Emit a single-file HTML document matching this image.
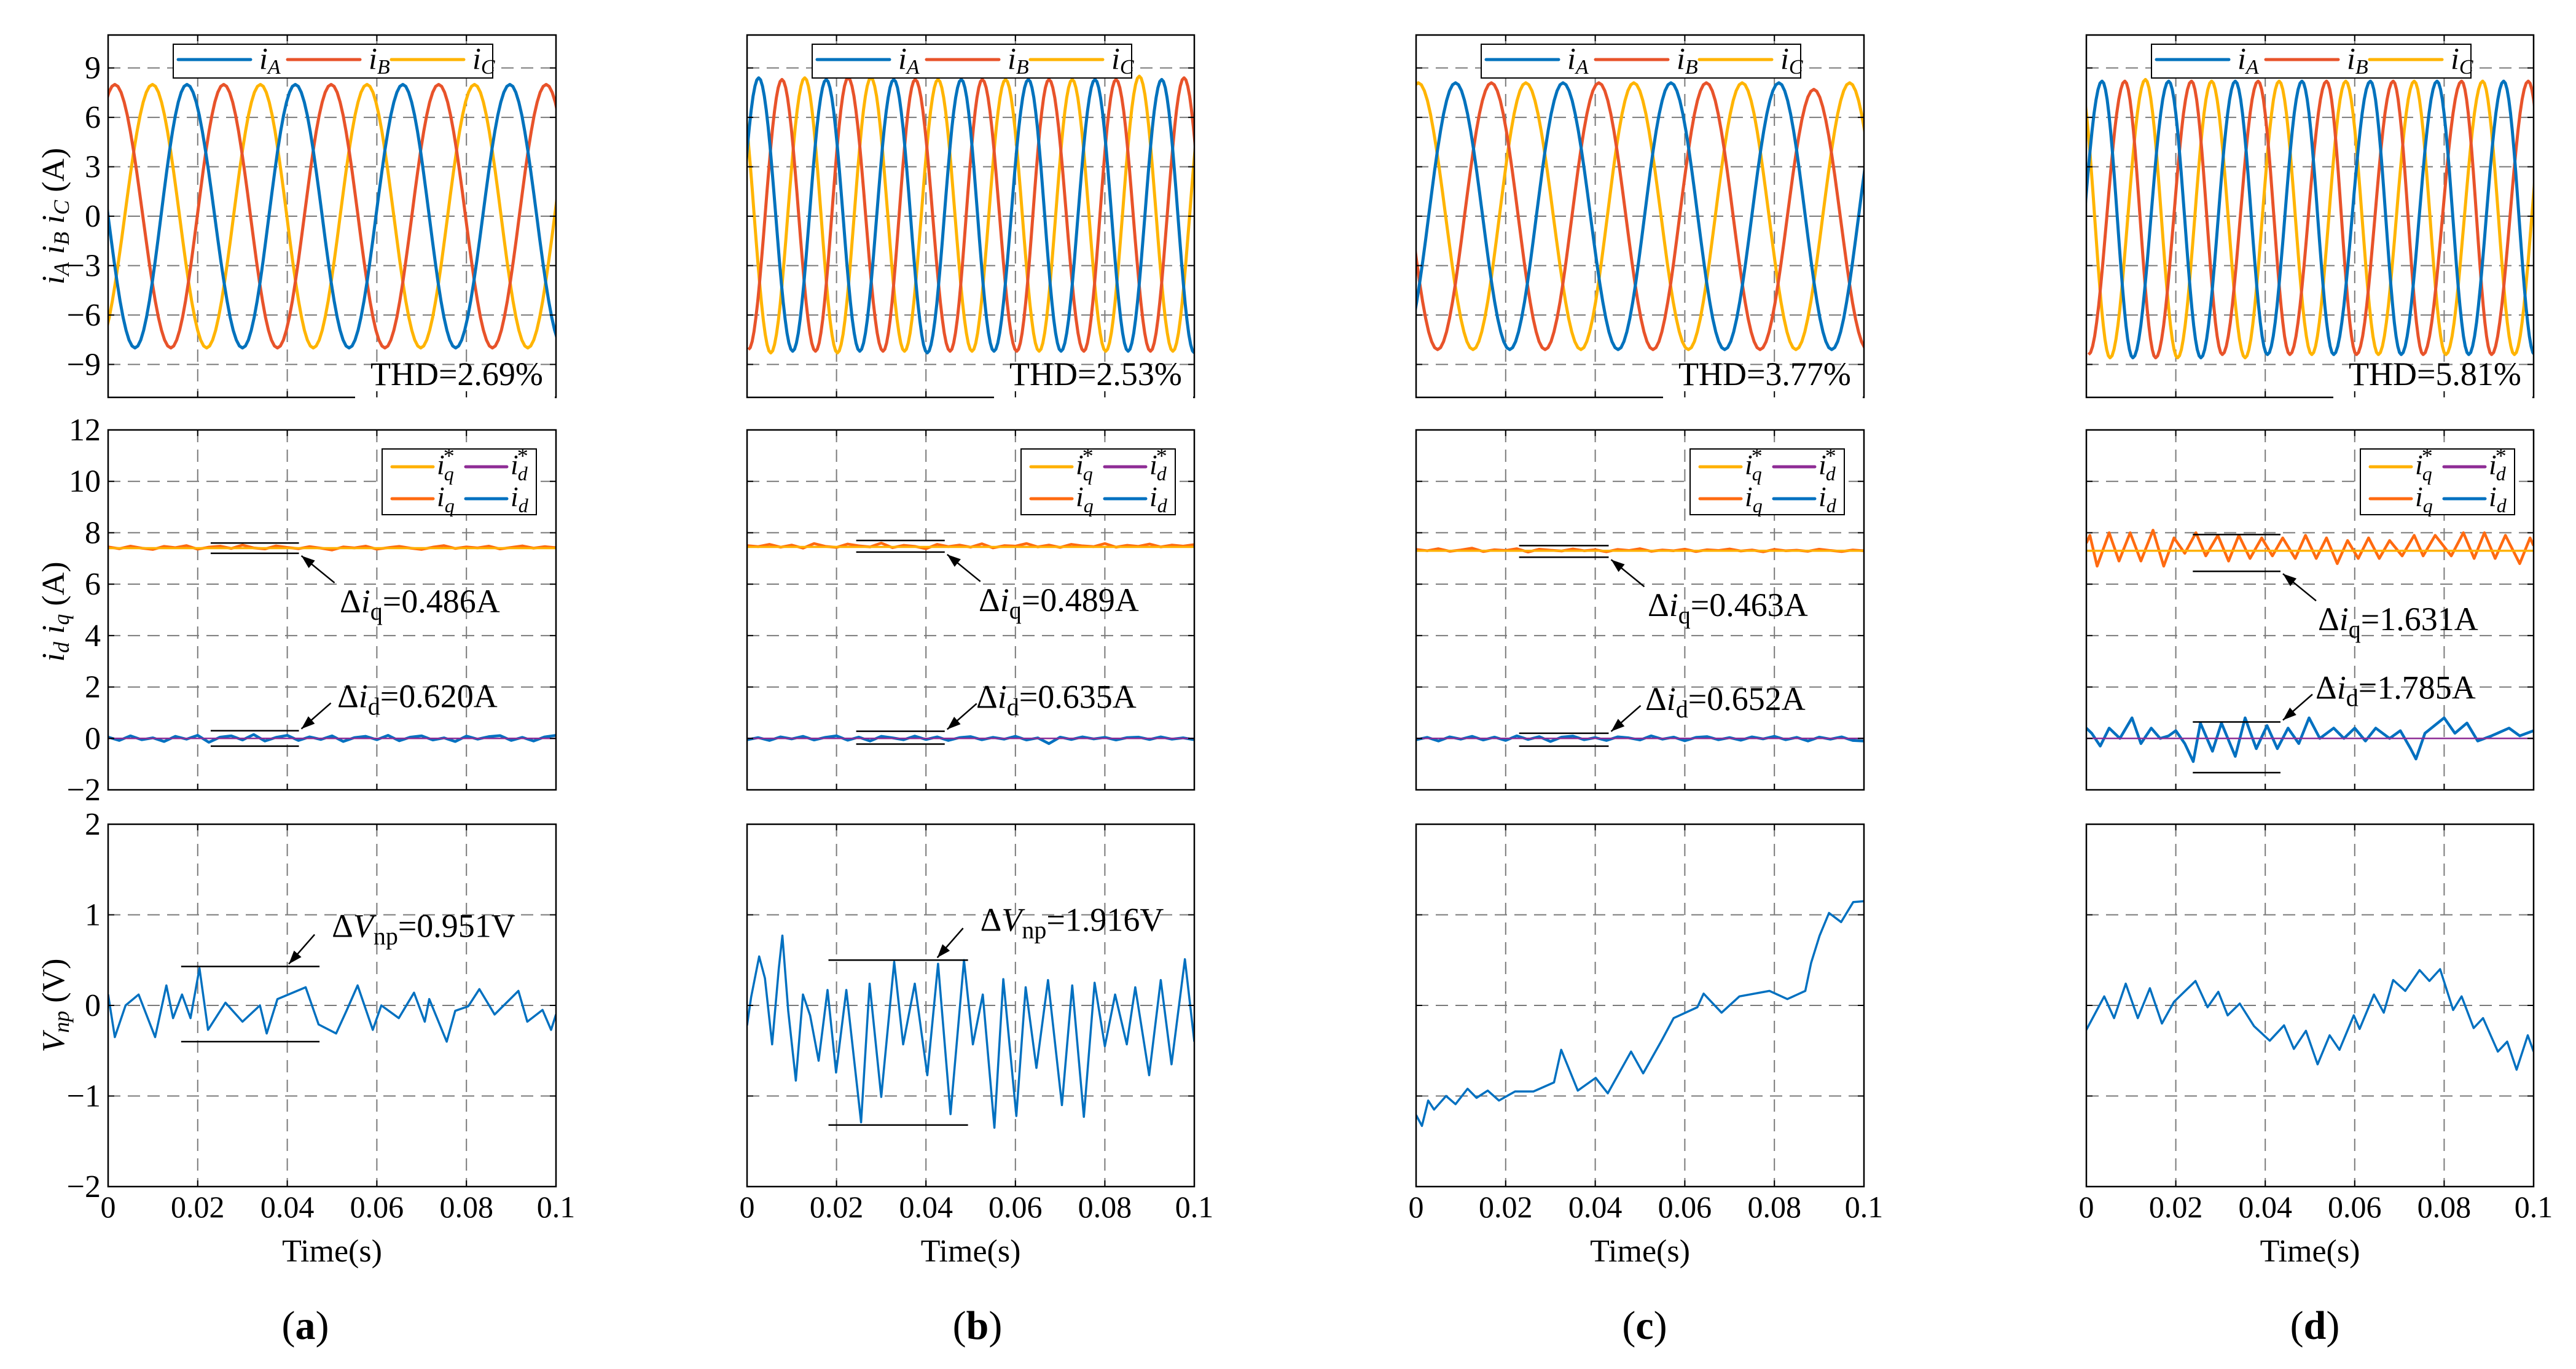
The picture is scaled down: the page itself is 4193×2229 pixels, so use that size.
<!DOCTYPE html>
<html><head><meta charset="utf-8"><title>Three-phase current and neutral-point voltage results</title>
<style>
html,body{margin:0;padding:0;background:#fff;}
svg{display:block;font-family:"Liberation Serif",serif;}
</style></head>
<body>
<svg id="fig" width="4193" height="2229" viewBox="0 0 4193 2229" xmlns="http://www.w3.org/2000/svg"></svg>
<script>
// ---------- data ----------
// x-axis
const xTicks = [0, 0.02, 0.04, 0.06, 0.08, 0.1];
const xTickLabels = ["0", "0.02", "0.04", "0.06", "0.08", "0.1"];
const topTicks = [-9, -6, -3, 0, 3, 6, 9];
const midTicks = [-2, 0, 2, 4, 6, 8, 10, 12];
const botTicks = [-2, -1, 0, 1, 2];
const panelLetters = ["a", "b", "c", "d"];
const thdLabels = ["THD=2.69%", "THD=2.53%", "THD=3.77%", "THD=5.81%"];
const diqLabels = ["0.486A", "0.489A", "0.463A", "1.631A"];
const didLabels = ["0.620A", "0.635A", "0.652A", "1.785A"];
const dvLabels = ["0.951V", "1.916V", null, null];

// three-phase current extrema [time, value]
const a_iA = [[-0.006,8],[0.006,-8],[0.0176,8],[0.030,-8],[0.0418,8],[0.0538,-8],[0.0658,8],[0.0776,-8],[0.0897,8],[0.1017,-8]];
const a_iB = [[-0.0105,-8],[0.0015,8],[0.014,-8],[0.0258,8],[0.0378,-8],[0.0498,8],[0.0618,-8],[0.0738,8],[0.0858,-8],[0.0978,8],[0.110,-8]];
const a_iC = [[-0.0025,-8],[0.0099,8],[0.022,-8],[0.034,8],[0.0458,-8],[0.0578,8],[0.0698,-8],[0.0818,8],[0.0937,-8],[0.1057,8]];

const b_iA = [[-0.0049,-8.2],[0.0026,8.4],[0.0102,-8.2],[0.0177,8.3],[0.0252,-8.2],[0.0328,8.3],[0.0403,-8.3],[0.0479,8.3],[0.0552,-8.2],[0.0629,8.3],[0.0702,-8.2],[0.0778,8.3],[0.0852,-8.2],[0.0927,8.3],[0.1000,-8.3]];
const b_iB = [[0.0003,-8.1],[0.0078,8.3],[0.0153,-8.2],[0.0226,8.4],[0.0304,-8.2],[0.0376,8.3],[0.0454,-8.2],[0.0526,8.3],[0.0603,-8.2],[0.0675,8.3],[0.0753,-8.2],[0.0825,8.3],[0.0902,-8.2],[0.0977,8.4],[0.1052,-8.2]];
const b_iC = [[-0.0021,8.4],[0.0053,-8.3],[0.0129,8.4],[0.0202,-8.3],[0.0277,8.4],[0.0352,-8.2],[0.0427,8.3],[0.0503,-8.2],[0.0578,8.3],[0.0653,-8.2],[0.0727,8.3],[0.0802,-8.2],[0.0877,8.5],[0.0952,-8.2],[0.1027,8.3]];

const c_iA = [[-0.0032,-8.1],[0.0088,8.1],[0.0209,-8.1],[0.0328,8.1],[0.0451,-8.1],[0.0569,8.1],[0.0689,-8.1],[0.0810,8.1],[0.0928,-8.1],[0.1048,8.1]];
const c_iB = [[-0.0072,8.1],[0.0048,-8.1],[0.0168,8.1],[0.0288,-8.1],[0.0408,8.1],[0.0529,-8.1],[0.0648,8.1],[0.0768,-8.1],[0.0888,7.7],[0.1008,-8.1]];
const c_iC = [[-0.0115,-8.1],[0.0005,8.1],[0.0127,-8.1],[0.0245,8.1],[0.0368,-8.1],[0.0486,8.1],[0.0608,-8.1],[0.0728,8.1],[0.0848,-8.1],[0.0968,8.1],[0.1088,-8.1]];

const d_iA = [[-0.0045,-8.6],[0.0035,8.2],[0.0104,-8.6],[0.0184,8.2],[0.0256,-8.6],[0.0333,8.2],[0.0405,-8.4],[0.0482,8.2],[0.0553,-8.4],[0.0635,8.2],[0.0704,-8.4],[0.0784,8.2],[0.0855,-8.4],[0.0933,8.2],[0.1002,-8.4]];
const d_iB = [[0.0005,-8.4],[0.0086,8.2],[0.0155,-8.6],[0.0235,8.2],[0.0304,-8.4],[0.0384,8.2],[0.0455,-8.4],[0.0537,8.2],[0.0604,-8.4],[0.0686,8.2],[0.0753,-8.4],[0.0839,8.2],[0.0906,-8.4],[0.0988,8.2],[0.106,-8.4]];
const d_iC = [[-0.0015,8.2],[0.0053,-8.6],[0.0132,8.3],[0.0204,-8.6],[0.0280,8.2],[0.0355,-8.6],[0.0431,8.2],[0.0504,-8.4],[0.0580,8.2],[0.0653,-8.4],[0.0733,8.2],[0.0804,-8.4],[0.0886,8.2],[0.0957,-8.4],[0.1035,8.4]];

// dq currents (cols a-c sampled every 0.0025 s)
const a_iq = [7.45,7.38,7.48,7.40,7.35,7.47,7.42,7.50,7.36,7.44,7.48,7.39,7.52,7.41,7.37,7.49,7.43,7.38,7.46,7.40,7.33,7.45,7.41,7.48,7.36,7.42,7.47,7.40,7.35,7.44,7.50,7.39,7.45,7.41,7.48,7.37,7.43,7.49,7.40,7.46,7.42];
const a_id = [0.05,-0.08,0.10,-0.05,0.02,-0.12,0.08,-0.03,0.12,-0.15,0.05,0.10,-0.06,0.15,-0.10,0.04,0.12,-0.08,0.06,-0.04,0.10,-0.12,0.03,0.08,-0.05,0.12,-0.09,0.05,0.10,-0.06,0.02,-0.12,0.09,-0.03,0.07,0.11,-0.08,0.04,-0.10,0.06,0.12];
const b_iq = [7.50,7.46,7.55,7.44,7.52,7.40,7.58,7.47,7.43,7.56,7.49,7.45,7.60,7.42,7.51,7.47,7.38,7.55,7.46,7.52,7.44,7.57,7.41,7.50,7.48,7.58,7.45,7.52,7.43,7.55,7.49,7.46,7.58,7.44,7.51,7.47,7.56,7.45,7.52,7.48,7.54];
const b_id = [-0.05,0.03,-0.08,0.06,-0.02,0.08,-0.06,0.04,0.10,-0.07,0.05,-0.10,0.08,0.02,-0.05,0.09,-0.04,0.06,-0.08,0.03,0.07,-0.05,0.04,-0.03,0.08,-0.06,0.02,-0.20,0.05,-0.04,0.06,-0.02,0.04,-0.06,0.03,0.05,-0.04,0.06,-0.03,0.02,-0.05];
const c_iq = [7.35,7.30,7.38,7.28,7.33,7.40,7.27,7.34,7.31,7.38,7.25,7.36,7.32,7.29,7.37,7.30,7.34,7.26,7.35,7.31,7.38,7.28,7.33,7.30,7.36,7.27,7.34,7.31,7.37,7.29,7.33,7.26,7.35,7.30,7.32,7.28,7.36,7.31,7.27,7.33,7.30];
const c_id = [-0.05,0.04,-0.10,0.06,-0.03,0.08,-0.06,0.05,-0.08,0.10,-0.04,0.07,-0.12,0.05,0.09,-0.05,0.03,-0.08,0.06,0.02,-0.06,0.10,-0.03,0.05,-0.09,0.04,0.07,-0.05,0.03,-0.07,0.06,-0.02,0.08,-0.05,0.04,-0.10,0.05,-0.03,0.06,-0.08,-0.10];
// col d dq currents as key points [time, value]
const d_iq = [[0,7.6],[0.0008,7.9],[0.0024,6.7],[0.0051,8.0],[0.0073,6.9],[0.0098,8.0],[0.0122,6.9],[0.0149,8.1],[0.0173,6.7],[0.0196,7.8],[0.022,7.2],[0.0245,8.0],[0.0267,7.1],[0.0294,7.9],[0.0318,6.9],[0.0341,7.9],[0.0366,7.0],[0.0392,7.8],[0.0416,7.1],[0.0439,7.8],[0.0467,7.0],[0.049,7.9],[0.0514,7.0],[0.0537,7.8],[0.0561,6.8],[0.0584,7.7],[0.0608,7.0],[0.0631,7.8],[0.0655,7.0],[0.0678,7.7],[0.0706,7.1],[0.0733,7.9],[0.0753,7.1],[0.078,7.9],[0.0816,7.1],[0.0843,8.0],[0.0867,7.0],[0.089,8.0],[0.0914,7.0],[0.0937,7.9],[0.0969,6.8],[0.0992,7.8],[0.1,7.5]];
const d_id = [[0,0.4],[0.0012,0.2],[0.0031,-0.3],[0.0051,0.4],[0.0075,0],[0.0102,0.8],[0.0122,-0.2],[0.0145,0.4],[0.0165,0],[0.0184,0.1],[0.02,0.3],[0.022,-0.2],[0.0239,-0.9],[0.0255,0.6],[0.0282,-0.5],[0.0302,0.6],[0.0333,-0.7],[0.0355,0.8],[0.038,-0.4],[0.0404,0.5],[0.0427,-0.4],[0.0451,0.4],[0.0475,-0.2],[0.0498,0.8],[0.0522,0],[0.0553,0.4],[0.0576,0],[0.06,0.4],[0.0624,-0.1],[0.0647,0.4],[0.0678,0],[0.0702,0.3],[0.0725,-0.4],[0.0737,-0.8],[0.0757,0.2],[0.08,0.8],[0.0824,0.2],[0.0851,0.6],[0.0875,-0.1],[0.0906,0.1],[0.0945,0.4],[0.0969,0.1],[0.1,0.3]];
const iqRef = [7.4, 7.45, 7.3, 7.3];
const idRef = [0, 0, 0, 0];

// neutral-point voltage key points [time, value]
const a_vnp = [[0,0.12],[0.0015,-0.35],[0.0039,0],[0.0068,0.12],[0.0105,-0.35],[0.013,0.22],[0.0145,-0.14],[0.0165,0.12],[0.0184,-0.14],[0.0204,0.41],[0.0223,-0.27],[0.0262,0.03],[0.0300,-0.18],[0.0339,0],[0.0354,-0.31],[0.0378,0.07],[0.0441,0.20],[0.047,-0.21],[0.0509,-0.31],[0.0533,-0.05],[0.0557,0.22],[0.0591,-0.27],[0.0610,0],[0.0649,-0.14],[0.0683,0.14],[0.0707,-0.18],[0.0717,0.07],[0.0756,-0.40],[0.0775,-0.06],[0.0804,-0.01],[0.0829,0.18],[0.0863,-0.10],[0.0916,0.16],[0.0936,-0.18],[0.097,-0.05],[0.0989,-0.27],[0.1,-0.10]];
const b_vnp = [[0,-0.22],[0.0009,0.09],[0.0027,0.54],[0.004,0.30],[0.0056,-0.43],[0.0071,0.41],[0.0079,0.77],[0.0092,-0.06],[0.0109,-0.83],[0.0125,0.12],[0.0141,-0.11],[0.016,-0.61],[0.018,0.17],[0.0199,-0.74],[0.0222,0.17],[0.0255,-1.29],[0.0274,0.24],[0.03,-1.01],[0.0329,0.48],[0.0349,-0.43],[0.0375,0.24],[0.0403,-0.77],[0.0427,0.46],[0.0455,-1.20],[0.0485,0.50],[0.0505,-0.43],[0.0527,0.12],[0.0553,-1.35],[0.0573,0.29],[0.0602,-1.22],[0.0623,0.20],[0.0647,-0.69],[0.0673,0.28],[0.0704,-1.10],[0.0727,0.22],[0.0753,-1.23],[0.0777,0.25],[0.08,-0.45],[0.0823,0.12],[0.0849,-0.43],[0.0868,0.20],[0.0899,-0.77],[0.0925,0.28],[0.0949,-0.65],[0.0979,0.51],[0.1,-0.40]];
const c_vnp = [[0,-1.21],[0.0013,-1.33],[0.0027,-1.05],[0.004,-1.15],[0.0067,-1.0],[0.0088,-1.09],[0.0115,-0.92],[0.0135,-1.02],[0.0160,-0.94],[0.0185,-1.05],[0.0221,-0.95],[0.0262,-0.95],[0.0308,-0.85],[0.0324,-0.49],[0.0361,-0.94],[0.0401,-0.8],[0.0428,-0.97],[0.048,-0.51],[0.0507,-0.75],[0.0548,-0.39],[0.0575,-0.14],[0.0628,-0.02],[0.0642,0.13],[0.0682,-0.08],[0.0722,0.10],[0.0789,0.16],[0.0829,0.07],[0.0869,0.16],[0.0882,0.47],[0.0901,0.77],[0.0922,1.02],[0.0949,0.92],[0.0976,1.14],[0.1,1.15]];
const d_vnp = [[0,-0.27],[0.004,0.10],[0.0062,-0.14],[0.0088,0.24],[0.0115,-0.14],[0.0142,0.19],[0.0169,-0.2],[0.0196,0.04],[0.0244,0.27],[0.0271,-0.02],[0.0295,0.15],[0.0316,-0.11],[0.0343,0.02],[0.0375,-0.23],[0.041,-0.39],[0.0442,-0.22],[0.0464,-0.48],[0.0491,-0.28],[0.0517,-0.65],[0.0544,-0.33],[0.0566,-0.49],[0.0598,-0.11],[0.0611,-0.26],[0.0643,0.12],[0.0665,-0.08],[0.0686,0.28],[0.0713,0.16],[0.0745,0.39],[0.0767,0.27],[0.0791,0.40],[0.0820,-0.05],[0.0839,0.10],[0.0866,-0.25],[0.0887,-0.14],[0.0920,-0.51],[0.0941,-0.40],[0.0962,-0.71],[0.0987,-0.33],[0.1,-0.51]];

// annotation brackets: [tStart, tEnd, vUpper, vLower]
const iqBracket = [[0.0229,0.0426,7.6,7.2],[0.0244,0.0442,7.7,7.25],[0.023,0.043,7.5,7.05],[0.0238,0.0434,7.93,6.5]];
const idBracket = [[0.0229,0.0426,0.3,-0.3],[0.0244,0.0442,0.28,-0.22],[0.023,0.043,0.2,-0.3],[0.0238,0.0434,0.64,-1.33]];
const vBracket = [[0.0163,0.0472,0.43,-0.40],[0.0182,0.0494,0.5,-1.32],null,null];

// ---------- layout ----------
const cols = [{x0:176,x1:905},{x0:1216,x1:1944},{x0:2305,x1:3034},{x0:3396,x1:4124}];
const rows = [{y0:57,y1:647,vmin:-11,vmax:11},{y0:700,y1:1286,vmin:-2,vmax:12},{y0:1342,y1:1932,vmin:-2,vmax:2}];
const letterX = [497,1591,2677,3768];
const C_A="#0072BD", C_B="#E8532A", C_C="#FFB400", C_IQ="#FF6A10", C_IQR="#FFB000", C_IDR="#8E2C95", C_ID="#0070C0";
const svg = document.getElementById('fig');
const NS = "http://www.w3.org/2000/svg";
function mk(tag, attrs, parent){const e=document.createElementNS(NS,tag);for(const k in attrs)e.setAttribute(k,attrs[k]);(parent||svg).appendChild(e);return e;}
function sx(c,t){const C=cols[c];return C.x0+(t-0.0)/0.1*(C.x1-C.x0);}
function sy(r,v){const R=rows[r];return R.y1-(v-R.vmin)/(R.vmax-R.vmin)*(R.y1-R.y0);}
function cosPath(c,r,pts){let d="";for(let i=0;i<pts.length-1;i++){const [t0,v0]=pts[i],[t1,v1]=pts[i+1];const n=18;for(let k=(i?1:0);k<=n;k++){const f=k/n;const t=t0+(t1-t0)*f;const v=v0+(v1-v0)*(1-Math.cos(Math.PI*f))/2;d+=(d?"L":"M")+sx(c,t).toFixed(1)+","+sy(r,v).toFixed(1);}}return d;}
function linePath(c,r,pts){return pts.map((p,i)=>(i?"L":"M")+sx(c,p[0]).toFixed(1)+","+sy(r,p[1]).toFixed(1)).join("");}
function sampPath(c,r,vals){const dt=0.1/(vals.length-1);return vals.map((v,i)=>(i?"L":"M")+sx(c,i*dt).toFixed(1)+","+sy(r,v).toFixed(1)).join("");}

const defs = mk('defs',{});
const phaseData = [[a_iA,a_iB,a_iC],[b_iA,b_iB,b_iC],[c_iA,c_iB,c_iC],[d_iA,d_iB,d_iC]];
const iqData=[a_iq,b_iq,c_iq,d_iq], idData=[a_id,b_id,c_id,d_id], vData=[a_vnp,b_vnp,c_vnp,d_vnp];
const tickSets=[topTicks,midTicks,botTicks];

for(let c=0;c<4;c++){
  const C=cols[c];
  for(let r=0;r<3;r++){
    const R=rows[r];
    const g=mk('g',{});
    
    
    const cp=mk('clipPath',{id:'cp'+c+r},defs);
    mk('rect',{x:C.x0,y:R.y0,width:C.x1-C.x0,height:R.y1-R.y0},cp);
    // grid
    const grid=mk('g',{stroke:"#7a7a7a","stroke-width":2,"stroke-dasharray":"20 12",fill:"none"},g);
    
    
    for(let i=1;i<xTicks.length-1;i++){const x=sx(c,xTicks[i]);mk('line',{x1:x,x2:x,y1:R.y0,y2:R.y1},grid);}
    tickSets[r].forEach(v=>{if(v<=R.vmin||v>=R.vmax)return;const y=sy(r,v);mk('line',{x1:C.x0,x2:C.x1,y1:y,y2:y},grid);});
    // series
    const sg=mk('g',{"clip-path":"url(#cp"+c+r+")",fill:"none","stroke-linejoin":"round"},g);
    if(r===0){
      const cl=[C_A,C_B,C_C];
      const nm=['series-ia','series-ib','series-ic'];
      [2,1,0].forEach(k=>{const p=mk('path',{d:cosPath(c,0,phaseData[c][k]),stroke:cl[k],"stroke-width":5},sg);
        
        });
    } else if(r===1){
      const iqD=iqData[c], idD=idData[c];
      const pq=mk('path',{d:Array.isArray(iqD[0])?linePath(c,1,iqD):sampPath(c,1,iqD),stroke:C_IQ,"stroke-width":4.5},sg);
      
      
      const pqr=mk('path',{d:linePath(c,1,[[0,iqRef[c]],[0.1,iqRef[c]]]),stroke:C_IQR,"stroke-width":3.5},sg);
      
      
      const pd=mk('path',{d:Array.isArray(idD[0])?linePath(c,1,idD):sampPath(c,1,idD),stroke:C_ID,"stroke-width":4.5},sg);
      
      
      const pdr=mk('path',{d:linePath(c,1,[[0,idRef[c]],[0.1,idRef[c]]]),stroke:C_IDR,"stroke-width":2.5},sg);
      
      
    } else {
      const pv=mk('path',{d:linePath(c,2,vData[c]),stroke:C_ID,"stroke-width":3.5},sg);
      
      
    }
    // white THD box in top plots
    if(r===0){
      const wb=mk('rect',{x:C.x0+400,y:598,width:C.x1-C.x0-401,height:R.y1-598+3,fill:"#fff"},g);
      
      
      const th=mk('text',{x:C.x0+427,y:627,"font-size":54},g);
      th.textContent=thdLabels[c];
      
      
    }
    // frame
    const fr=mk('rect',{x:C.x0,y:R.y0,width:C.x1-C.x0,height:R.y1-R.y0,fill:"none",stroke:"#000","stroke-width":2.5},g);
    
    
    if(r===0){mk('rect',{x:C.x0+402,y:R.y1-2,width:C.x1-C.x0-404,height:5,fill:"#fff"},g);}
    // tick marks
    const tk=mk('g',{stroke:"#000","stroke-width":2},g);
    xTicks.forEach(t=>{const x=sx(c,t);mk('line',{x1:x,x2:x,y1:R.y1,y2:R.y1-10},tk);mk('line',{x1:x,x2:x,y1:R.y0,y2:R.y0+10},tk);});
    tickSets[r].forEach(v=>{const y=sy(r,v);mk('line',{x1:C.x0,x2:C.x0+10,y1:y,y2:y},tk);mk('line',{x1:C.x1,x2:C.x1-10,y1:y,y2:y},tk);});
    // y tick labels only column a
    if(c===0){
      tickSets[r].forEach(v=>{const t=mk('text',{x:C.x0-12,y:sy(r,v)+17,"font-size":52,"text-anchor":"end"},g);
        t.textContent=(v<0?"\u2212"+Math.abs(v):String(v));
        
        });
    }
    // x tick labels for bottom row
    if(r===2){
      xTicks.forEach((t,i)=>{const tx=mk('text',{x:sx(c,t),y:1982,"font-size":50,"text-anchor":"middle"},g);
        tx.textContent=xTickLabels[i];
        
        });
      const xt=mk('text',{x:(C.x0+C.x1)/2,y:2054,"font-size":52,"text-anchor":"middle"},g);
      xt.textContent="Time(s)";
      
      
    }
  }
  // legends
  const lg=mk('g',{},svg);
  
  
  mk('rect',{x:C.x0+106,y:72,width:520,height:55,fill:"#fff",stroke:"#000","stroke-width":2},lg);
  [[C_A,"A",114],[C_B,"B",292],[C_C,"C",461]].forEach(([col,s,off])=>{
    const le=mk('line',{x1:C.x0+off,x2:C.x0+off+118,y1:97,y2:97,stroke:col,"stroke-width":5,"stroke-linecap":"round"},lg);
    
    
    const lt=mk('text',{x:C.x0+off+132,y:112,"font-size":50,"font-style":"italic"},lg);
    lt.innerHTML='i<tspan font-size="34" dy="8">'+s+'</tspan>';
    
    
  });
  const lg2=mk('g',{},svg);
  
  
  mk('rect',{x:C.x0+446,y:731,width:251,height:107,fill:"#fff",stroke:"#000","stroke-width":2},lg2);
  [[C_IQR,"q",true,462,760],[C_IDR,"d",true,582,760],[C_IQ,"q",false,462,812],[C_ID,"d",false,582,812]].forEach(([col,s,star,off,y])=>{
    const le=mk('line',{x1:C.x0+off,x2:C.x0+off+67,y1:y,y2:y,stroke:col,"stroke-width":5,"stroke-linecap":"round"},lg2);
    
    
    const lt=mk('text',{x:C.x0+off+73,y:y+12,"font-size":46,"font-style":"italic"},lg2);
    lt.innerHTML='i'+(star?'<tspan font-style="normal" font-size="36" dy="-18" dx="-2">*</tspan><tspan font-size="32" dx="-17" dy="28">'+s+'</tspan>':'<tspan font-size="32" dy="10">'+s+'</tspan>');
    
    
  });
  // dq annotations
  const an=mk('g',{stroke:"#000","stroke-width":2.5,fill:"none"},svg);
  
  
  function bracket(r,b){mk('line',{x1:sx(c,b[0]),x2:sx(c,b[1]),y1:sy(r,b[2]),y2:sy(r,b[2])},an);mk('line',{x1:sx(c,b[0]),x2:sx(c,b[1]),y1:sy(r,b[3]),y2:sy(r,b[3])},an);}
  function arrow(x1,y1,x2,y2){mk('line',{x1:x1,y1:y1,x2:x2,y2:y2},an);const a=Math.atan2(y2-y1,x2-x1),L=22,W=8;
    const p=[[x2,y2],[x2-L*Math.cos(a)+W*Math.sin(a),y2-L*Math.sin(a)-W*Math.cos(a)],[x2-L*Math.cos(a)-W*Math.sin(a),y2-L*Math.sin(a)+W*Math.cos(a)]];
    mk('polygon',{points:p.map(q=>q.join(",")).join(" "),fill:"#000",stroke:"none"},an);}
  const bq=iqBracket[c], bd=idBracket[c];
  bracket(1,bq); bracket(1,bd);
  const ex=sx(c,bq[1]);
  arrow(ex+58,sy(1,bq[3])+48,ex+4,sy(1,bq[3])+4);
  arrow(ex+52,sy(1,bd[2])-45,ex+4,sy(1,bd[2])-3);
  const tq=mk('text',{x:C.x0+377,y:sy(1,bq[3])+96,"font-size":54},svg);
  tq.innerHTML='\u0394<tspan font-style="italic">i</tspan><tspan font-size="40" dy="12">q</tspan><tspan dy="-12">='+diqLabels[c]+'</tspan>';
  
  
  const td=mk('text',{x:C.x0+373,y:sy(1,bd[2])-38,"font-size":54},svg);
  td.innerHTML='\u0394<tspan font-style="italic">i</tspan><tspan font-size="40" dy="12">d</tspan><tspan dy="-12">='+didLabels[c]+'</tspan>';
  
  
  if(vBracket[c]){
    const bv=vBracket[c];
    bracket(2,bv);
    const vx=sx(c,bv[1]);
    arrow(vx-8,sy(2,bv[2])-52,vx-50,sy(2,bv[2])-4);
    const tv=mk('text',{x:vx+20,y:sy(2,bv[2])-48,"font-size":54},svg);
    tv.innerHTML='\u0394<tspan font-style="italic">V</tspan><tspan font-size="40" dy="12">np</tspan><tspan dy="-12">='+dvLabels[c]+'</tspan>';
    
    
  }
  const pl=mk('text',{x:letterX[c],y:2180,"font-size":66,"text-anchor":"middle"},svg);
  pl.innerHTML='(<tspan font-weight="bold">'+panelLetters[c]+'</tspan>)';
  
  
}
// y-axis titles
const yt1=mk('text',{x:0,y:0,"font-size":52,"text-anchor":"middle",transform:"translate(104,352) rotate(-90)"});
yt1.innerHTML='<tspan font-style="italic">i</tspan><tspan font-style="italic" font-size="36" dy="8">A</tspan><tspan font-style="italic" dy="-8"> i</tspan><tspan font-style="italic" font-size="36" dy="8">B</tspan><tspan font-style="italic" dy="-8"> i</tspan><tspan font-style="italic" font-size="36" dy="8">C</tspan><tspan dy="-8"> (A)</tspan>';


const yt2=mk('text',{x:0,y:0,"font-size":52,"text-anchor":"middle",transform:"translate(104,996) rotate(-90)"});
yt2.innerHTML='<tspan font-style="italic">i</tspan><tspan font-style="italic" font-size="36" dy="8">d</tspan><tspan font-style="italic" dy="-8"> i</tspan><tspan font-style="italic" font-size="36" dy="8">q</tspan><tspan dy="-8"> (A)</tspan>';


const yt3=mk('text',{x:0,y:0,"font-size":52,"text-anchor":"middle",transform:"translate(104,1637) rotate(-90)"});
yt3.innerHTML='<tspan font-style="italic">V</tspan><tspan font-style="italic" font-size="36" dy="8">np</tspan><tspan dy="-8"> (V)</tspan>';


</script>
</body></html>
